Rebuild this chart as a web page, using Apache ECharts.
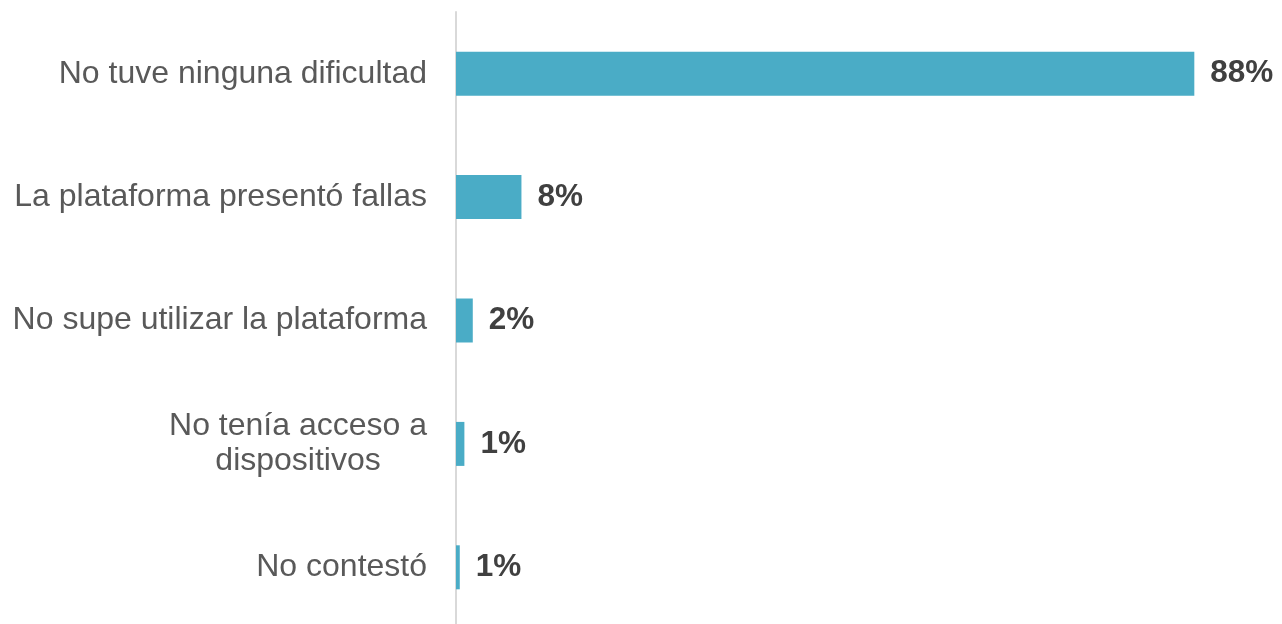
<!DOCTYPE html>
<html>
<head>
<meta charset="utf-8">
<script src="https://cdn.jsdelivr.net/npm/echarts@6/dist/echarts.min.js"></script>
<style>
html,body{margin:0;padding:0;background:#fff;}
#chart{width:1282px;height:624px;}
</style>
</head>
<body>
<div id="chart"></div>
<script>
const categories = [
  'No tuve ninguna dificultad',
  'La plataforma presentó fallas',
  'No supe utilizar la plataforma',
  'No tenía acceso a\ndispositivos',
  'No contestó'
];
const values = [88, 7.8, 2.0, 1.0, 0.45];
const valueLabels = ['88%', '8%', '2%', '1%', '1%'];

const chart = echarts.init(document.getElementById('chart'));
chart.setOption({
  animation: false,
  grid: { left: 456, top: 12, width: 839, height: 617, containLabel: false, outerBoundsMode: 'none' },
  xAxis: {
    type: 'value', min: 0, max: 100,
    show: false
  },
  yAxis: {
    type: 'category',
    inverse: true,
    data: categories,
    axisLine: { show: true, lineStyle: { color: '#d9d9d9', width: 2 } },
    axisTick: { show: false },
    splitLine: { show: false },
    axisLabel: {
      margin: 29,
      fontFamily: 'Liberation Sans, Arial, sans-serif',
      fontSize: 32,
      color: '#595959',
      lineHeight: 35,
      formatter: function (v) {
        return v.split('\n').map(function (s) { return '{c|' + s + '}'; }).join('\n');
      },
      rich: {
        c: { align: 'center', fontFamily: 'Liberation Sans, Arial, sans-serif', fontSize: 32, color: '#595959', lineHeight: 35 }
      }
    }
  },
  series: [{
    type: 'bar',
    data: values,
    barWidth: 44,
    itemStyle: { color: '#4aacc6' },
    label: {
      show: true,
      position: 'right',
      distance: 16,
      fontFamily: 'Liberation Sans, Arial, sans-serif',
      fontSize: 31.5,
      fontWeight: 'bold',
      color: '#404040',
      formatter: function (p) { return valueLabels[p.dataIndex]; }
    }
  }]
});
</script>
</body>
</html>
